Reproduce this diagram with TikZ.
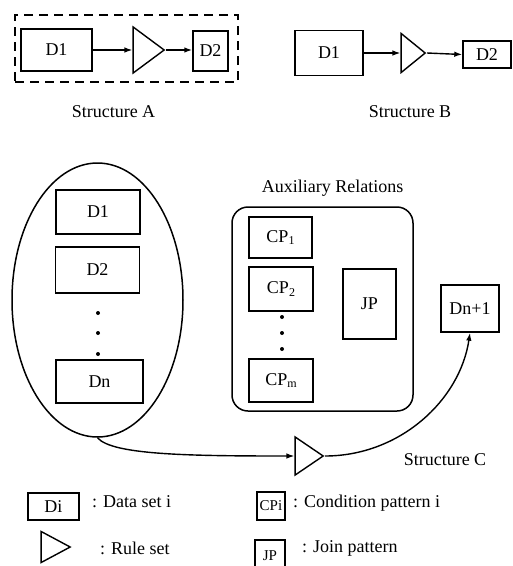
\documentclass[tikz,border=0pt]{standalone}
\usepackage{fontspec}
\setmainfont{Liberation Serif}
\usetikzlibrary{arrows.meta,shapes.geometric}
\newcommand{\lowsc}[1]{\raisebox{-2.5pt}{\fontsize{12}{12}\selectfont #1}}
\begin{document}
\begin{tikzpicture}[x=1pt,y=-1pt,
  every node/.style={font=\fontsize{18}{21}\selectfont},
  box/.style={draw, line width=1.4pt, inner sep=0pt},
  tri/.style={draw, line width=1.4pt, isosceles triangle, isosceles triangle stretches, inner sep=0pt},
  arr/.style={line width=1.4pt, -{Latex[length=8pt,width=5.5pt]}},
  lbl/.style={inner sep=0pt, anchor=west},
  dotc/.style={fill, circle, inner sep=0pt, minimum size=4pt}]
\useasboundingbox (0,0) rectangle (513,566);

% Structure A
\node[draw, dash pattern=on 9pt off 6pt, line width=1.6pt, minimum width=223pt, minimum height=67pt, inner sep=0pt] (dashA) at (126.5,48.5) {};
\node[box, minimum width=71pt, minimum height=42pt] (A1) at (56.5,50) {D1};
\node[tri, minimum height=31pt, minimum width=46pt, anchor=apex] (tA) at (166,50) {};
\node[box, minimum width=35pt, minimum height=40pt] (A2) at (210.5,51) {D2};
\draw[arr] (A1.east) -- (A1.east -| tA.lower side);
\draw[arr] (tA.apex) -- (tA.apex -| A2.west);
\node (labA) at (113.5,112) {Structure A};

% Structure B
\node[box, minimum width=68pt, minimum height=45pt] (B1) at (329,53) {D1};
\node[tri, minimum height=24pt, minimum width=39pt, anchor=apex] (tB) at (427,53) {};
\node[box, minimum width=48pt, minimum height=27pt] (B2) at (487,54.5) {D2};
\draw[arr] (B1.east) -- (B1.east -| tB.lower side);
\draw[arr] (tB.apex) -- (B2.west);
\node (labB) at (410,112) {Structure B};

% Structure C: data sets
\node[draw, ellipse, line width=1.5pt, minimum width=171pt, minimum height=274pt, inner sep=0pt] (E) at (97.5,300) {};
\node[box, minimum width=84pt, minimum height=44pt] (E1) at (98,212) {D1};
\node[box, minimum width=84pt, minimum height=46pt] (E2) at (97.5,270) {D2};
\node[dotc] (ed1) at (98,313) {};
\node[dotc] (ed2) at (98,333) {};
\node[dotc] (ed3) at (98,354) {};
\node[box, minimum width=87pt, minimum height=43pt] (En) at (99.5,381.5) {Dn};

% Auxiliary relations
\node (auxl) at (332.5,188) {Auxiliary Relations};
\node[draw, line width=1.5pt, rounded corners=16pt, minimum width=181pt, minimum height=204pt, inner sep=0pt] (aux) at (322.5,309) {};
\node[box, minimum width=63pt, minimum height=41pt] (CP1) at (280.5,237.5) {CP\lowsc{1}};
\node[box, minimum width=64pt, minimum height=44pt] (CP2) at (281,289) {CP\lowsc{2}};
\node[dotc] (cd1) at (282,317) {};
\node[dotc] (cd2) at (282,333) {};
\node[dotc] (cd3) at (282,349) {};
\node[box, minimum width=64pt, minimum height=43pt] (CPm) at (281,380.5) {CP\lowsc{m}};
\node[box, minimum width=53pt, minimum height=70pt] (JP) at (369.5,304) {JP};

% result
\node[box, minimum width=58pt, minimum height=47pt] (Dn1) at (470,308.5) {Dn+1};
\node[tri, minimum height=28pt, minimum width=38pt, anchor=apex] (tC) at (325,456) {};
\draw[arr] (E.south) .. controls (112,455) and (190,456) .. (tC.lower side);
\draw[arr] (tC.apex) .. controls (400,456) and (460,400) .. (Dn1.south);
\node (labC) at (445,460) {Structure C};

% legend
\node[box, minimum width=51pt, minimum height=27pt] (lD) at (53.5,506.5) {Di};
\node[lbl] (lDt) at (92,502) {: Data set i};
\node[tri, minimum height=29pt, minimum width=31pt, anchor=apex] (lT) at (72,547) {};
\node[lbl] (lTt) at (100,548) {: Rule set};
\node[box, minimum width=28pt, minimum height=28pt, font=\fontsize{15}{18}\selectfont] (lCP) at (271,506) {CPi};
\node[lbl] (lCPt) at (293,503) {: Condition pattern i};
\node[box, minimum width=30pt, minimum height=32pt, font=\fontsize{15}{18}\selectfont] (lJP) at (270,556) {JP};
\node[lbl] (lJPt) at (302,548) {: Join pattern};
\end{tikzpicture}
\end{document}
